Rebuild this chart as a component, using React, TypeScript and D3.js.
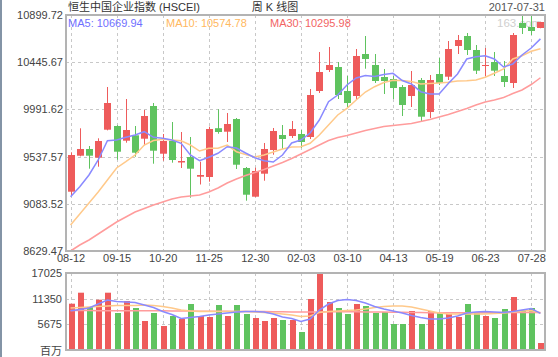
import React from 'react';
import * as d3 from 'd3';

const dates = [
  '2016-08-12', '2016-08-19', '2016-08-26', '2016-09-02', '2016-09-09', '2016-09-15', '2016-09-23', '2016-09-30',
  '2016-10-07', '2016-10-14', '2016-10-20', '2016-10-28', '2016-11-04', '2016-11-11', '2016-11-18', '2016-11-25',
  '2016-12-02', '2016-12-09', '2016-12-16', '2016-12-23', '2016-12-30', '2017-01-06', '2017-01-13', '2017-01-20',
  '2017-01-27', '2017-02-03', '2017-02-10', '2017-02-17', '2017-02-24', '2017-03-03', '2017-03-10', '2017-03-17',
  '2017-03-24', '2017-03-31', '2017-04-07', '2017-04-13', '2017-04-21', '2017-04-28', '2017-05-05', '2017-05-12',
  '2017-05-19', '2017-05-26', '2017-06-02', '2017-06-09', '2017-06-16', '2017-06-23', '2017-06-30', '2017-07-07',
  '2017-07-14', '2017-07-21', '2017-07-28', '2017-07-31',
];

const opens = [
  9199.9, 9546.2, 9610.7, 9527.0, 9796.3, 9831.9, 9690.5, 9742.4, 9709.7, 10024.3, 9565.4, 9687.6, 9480.8,
  9533.7, 9344.2, 9341.3, 9810.8, 9777.1, 9899.3, 9427.9, 9151.8, 9373.1, 9601.0, 9745.4, 9735.7, 9755.0,
  9726.1, 10168.6, 10370.6, 10399.5, 10168.6, 10120.5, 10524.5, 10418.7, 10303.3, 10284.0, 10207.1, 10120.5,
  10274.4, 9966.6, 10332.1, 10306.2, 10601.5, 10697.7, 10563.0, 10409.1, 10447.6, 10312.9, 10245.6, 10822.8,
  10784.3, 10774.7,
];
const highs = [
  9578.9, 9809.8, 9639.5, 9713.6, 10207.1, 9840.0, 10091.6, 9831.9, 9985.8, 10053.2, 9755.0, 9870.4, 9774.2,
  9726.1, 9488.5, 9825.2, 9993.5, 9957.0, 9908.9, 9437.5, 9430.8, 9668.4, 9812.7, 9841.5, 9880.0, 9793.4,
  10187.8, 10543.8, 10591.9, 10447.6, 10312.9, 10572.6, 10697.7, 10524.5, 10380.2, 10312.9, 10226.3, 10361.0,
  10293.7, 10322.5, 10486.1, 10649.6, 10707.3, 10726.5, 10611.1, 10582.2, 10543.8, 10457.2, 10726.5, 10899.72,
  10890.1, 10835.0,
];
const lows = [
  9168.2, 9540.0, 9421.2, 9440.4, 9790.0, 9507.7, 9671.3, 9536.6, 9646.3, 9469.2, 9498.1, 9478.9, 9427.9,
  9142.2, 9269.2, 9296.1, 9757.8, 9678.0, 9418.3, 9113.3, 9148.0, 9305.7, 9555.8, 9610.7, 9716.5, 9620.3,
  9706.9, 10149.4, 10351.4, 10091.6, 10014.7, 10082.0, 10383.1, 10245.6, 10139.7, 10091.6, 9928.1, 10014.7,
  9880.0, 9908.9, 10226.3, 10274.4, 10524.5, 10514.9, 10332.1, 10312.9, 10312.9, 10207.1, 10197.5, 10716.9,
  10707.3, 10772.0,
];
const closes = [
  9552.9, 9610.7, 9546.2, 9687.6, 10053.2, 9584.7, 9793.4, 9575.1, 9928.1, 9594.3, 9687.6, 9504.8, 9495.2,
  9421.2, 9360.5, 9803.1, 9774.2, 9851.2, 9459.6, 9171.0, 9399.0, 9610.7, 9783.8, 9706.9, 9803.1, 9678.0,
  10130.1, 10351.4, 10418.7, 10130.1, 10053.2, 10505.3, 10476.4, 10264.8, 10264.8, 10197.5, 10033.9, 10226.3,
  9921.4, 10274.4, 10245.6, 10572.6, 10659.2, 10563.0, 10363.9, 10418.7, 10363.9, 10255.2, 10707.3, 10774.7,
  10745.8, 10832.4,
];

const ma5 = [
  9151.8, 9248.0, 9360.5, 9504.8, 9690.5, 9697.2, 9723.2, 9745.4, 9777.1, 9723.2, 9713.6, 9697.2, 9665.5,
  9552.9, 9498.1, 9530.8, 9569.3, 9632.8, 9620.3, 9572.2, 9527.0, 9498.1, 9485.6, 9552.9, 9668.4, 9697.2,
  9764.6, 9889.6, 10065.7, 10130.1, 10226.3, 10293.7, 10317.7, 10308.1, 10327.3, 10338.9, 10269.6, 10235.9,
  10161.9, 10139.7, 10139.7, 10240.8, 10332.1, 10476.4, 10498.6, 10508.2, 10476.4, 10399.5, 10428.3, 10514.9,
  10582.2, 10669.94,
];
const ma10 = [
  8879.6, 8985.4, 9091.2, 9197.0, 9312.4, 9427.9, 9488.5, 9552.9, 9649.1, 9692.4, 9704.0, 9697.2, 9690.5,
  9649.1, 9591.4, 9617.4, 9617.4, 9649.1, 9584.7, 9557.8, 9533.7, 9552.9, 9581.8, 9610.7, 9629.9, 9632.8,
  9665.5, 9745.4, 9841.5, 9937.7, 10002.2, 10082.0, 10159.0, 10210.0, 10250.4, 10271.5, 10269.6, 10260.0,
  10235.9, 10240.8, 10245.6, 10252.3, 10264.8, 10267.7, 10274.4, 10300.4, 10338.9, 10380.2, 10476.4, 10508.2,
  10550.5, 10574.78,
];
const ma30 = [
  8629.47, 8687.2, 8735.3, 8793.0, 8850.7, 8908.4, 8956.5, 9004.6, 9038.3, 9072.0, 9100.8, 9129.7, 9148.9,
  9158.5, 9168.2, 9197.0, 9235.5, 9283.6, 9322.1, 9355.7, 9384.6, 9413.5, 9447.1, 9480.8, 9519.3, 9562.6,
  9605.9, 9649.1, 9692.4, 9721.3, 9740.5, 9764.6, 9788.6, 9807.9, 9827.1, 9836.7, 9846.3, 9856.0, 9875.2,
  9894.4, 9918.5, 9942.5, 9971.4, 10000.3, 10033.9, 10062.8, 10082.0, 10106.1, 10144.6, 10178.2, 10231.1,
  10295.98,
];

const volumes = [
  10237, 12670, 9507, 11122, 12670, 8181, 10834, 9286, 6412, 8181, 5306, 7517, 6854, 10171, 7517, 7296, 9950,
  7517, 9950, 7960, 7075, 6412, 7075, 6633, 6633, 3980, 11276, 16870, 10613, 9286, 7960, 10171, 9728, 8181,
  8402, 5749, 5749, 8623, 5749, 8623, 8181, 7960, 7296, 10171, 8402, 7517, 7075, 9065, 11718, 8844, 9286, 1548,
];
const volMa5 = [
  8689, 8955, 9286, 10171, 11055, 10723, 10613, 10502, 9950, 9397, 8512, 7849, 6965, 7186, 7407, 7739, 7960,
  8181, 8402, 8512, 8512, 8402, 7960, 7296, 6965, 6301, 6854, 8844, 10171, 10944, 11166, 10944, 10392, 9618,
  9065, 8623, 8181, 7628, 7186, 6854, 6854, 7075, 7517, 8181, 8402, 8512, 8402, 8291, 8512, 8844, 9176, 8092,
];
const volMa10 = [
  9286, 9397, 9507, 9618, 9728, 9839, 9839, 9839, 9950, 9839, 9618, 9286, 8844, 8623, 8512, 8512, 8512, 8512,
  8512, 8512, 8402, 8291, 8181, 7960, 7739, 7407, 7517, 8291, 8512, 8623, 8733, 8844, 9065, 9397, 9618, 9728,
  9728, 9507, 9065, 8623, 8181, 7960, 7960, 7960, 7960, 7960, 8070, 8181, 8402, 8623, 8733, 8181,
];
const volMa30 = [
  8730, 8715, 8720, 8700, 8705, 8690, 8700, 8680, 8685, 8670, 8660, 8650, 8640, 8610, 8590, 8580, 8560, 8550,
  8540, 8530, 8520, 8500, 8470, 8440, 8420, 8390, 8380, 8420, 8440, 8450, 8440, 8430, 8420, 8400, 8390, 8360,
  8330, 8300, 8270, 8250, 8230, 8220, 8210, 8220, 8230, 8250, 8260, 8270, 8280, 8300, 8330, 8300,
];

const yTicks = [10899.72, 10445.67, 9991.62, 9537.57, 9083.52, 8629.47];
const volTicks = [17025, 11350, 5675];

const title = '恒生中国企业指数 (HSCEI)';
const periodLabel = '周 K 线图';
const lastDate = '2017-07-31';
const legend = [
  { name: 'MA5', value: '10669.94' },
  { name: 'MA10', value: '10574.78' },
  { name: 'MA30', value: '10295.98' },
];

const RED = '#ee5b5b';
const GREEN = '#5fc35f';
const C_MA5 = '#8a8aff';
const C_MA10 = '#ffc98a';
const C_MA30 = '#ff9c9c';
const FONT = "'Liberation Sans', Arial, 'Noto Sans CJK SC', sans-serif";

export default function App() {
  const W = 558;
  const H = 357;
  const left = 66;
  const right = 545;
  const top = 15;
  const bottom = 251;
  const vTop = 273;
  const vBottom = 350;

  const x = d3
    .scaleBand<string>()
    .domain(dates)
    .range([left, right])
    .paddingInner(0.27)
    .paddingOuter(0.13);
  const cx = (i: number) => (x(dates[i]) as number) + x.bandwidth() / 2;
  const y = d3.scaleLinear().domain([yTicks[5], yTicks[0]]).range([bottom, top]);
  const yv = d3.scaleLinear().domain([0, volTicks[0]]).range([vBottom, vTop]);

  const priceLine = (arr: number[]) =>
    d3
      .line<number>()
      .x((_, i) => cx(i))
      .y((d) => y(d))(arr) as string;
  const volLine = (arr: number[]) =>
    d3
      .line<number>()
      .x((_, i) => cx(i))
      .y((d) => yv(d))(arr) as string;

  const labelIdx = dates.map((_, i) => i).filter((i) => i % 5 === 0 && i <= 50);
  const gridColor = '#c8c8c8';
  const frameColor = '#b3b3b3';

  return (
    <svg
      width={W}
      height={H}
      style={{ position: 'absolute', left: 0, top: 0, background: '#fff', fontFamily: FONT }}
    >
      <rect x={0} y={0} width={W} height={H} fill="#fff" />
      <line x1={1} x2={1} y1={0} y2={H} stroke="#8394a6" strokeWidth={2} />

      {/* header */}
      <text x={68} y={11} fontSize={11} fill="#333">{title}</text>
      <text x={275} y={11} fontSize={11} fill="#333" textAnchor="middle">{periodLabel}</text>
      <text x={545} y={10.5} fontSize={11} fill="#555" textAnchor="end">{lastDate}</text>

      {/* grid main */}
      {yTicks.slice(1, 5).map((t) => (
        <line key={'hg' + t} x1={left} x2={right} y1={Math.round(y(t)) + 0.5} y2={Math.round(y(t)) + 0.5}
          stroke={gridColor} strokeDasharray="3,3" />
      ))}
      {labelIdx.map((i) => (
        <line key={'vg' + i} x1={Math.round(cx(i)) + 0.5} x2={Math.round(cx(i)) + 0.5} y1={top} y2={bottom}
          stroke={gridColor} strokeDasharray="3,3" />
      ))}

      {/* watermark & legend */}
      <text x={497} y={26.5} fontSize={11.5} fill="#cfcfcf">163.com</text>
      <text x={68} y={26.5} fontSize={11} fill="#6f6fff">{legend[0].name}: {legend[0].value}</text>
      <text x={166} y={26.5} fontSize={11} fill="#ffb860">{legend[1].name}: {legend[1].value}</text>
      <text x={270} y={26.5} fontSize={11} fill="#f26464">{legend[2].name}: {legend[2].value}</text>

      {/* candles */}
      {dates.map((d, i) => {
        const up = closes[i] >= opens[i];
        const col = up ? RED : GREEN;
        const c = Math.round(cx(i));
        const yTop = y(Math.max(opens[i], closes[i]));
        const yBot = y(Math.min(opens[i], closes[i]));
        return (
          <g key={'c' + d}>
            <line x1={c + 0.5} x2={c + 0.5} y1={y(highs[i])} y2={y(lows[i])} stroke={col} strokeWidth={1} />
            <rect x={c - 3} y={yTop} width={7} height={Math.max(1, yBot - yTop)} fill={col} />
          </g>
        );
      })}

      {/* MA lines */}
      <path d={priceLine(ma30)} fill="none" stroke={C_MA30} strokeWidth={1.5} />
      <path d={priceLine(ma10)} fill="none" stroke={C_MA10} strokeWidth={1.5} />
      <path d={priceLine(ma5)} fill="none" stroke={C_MA5} strokeWidth={1.5} />

      {/* main frame */}
      <rect x={left} y={top} width={right - left} height={bottom - top} fill="none" stroke={frameColor} strokeWidth={2} />

      {/* y labels */}
      {yTicks.map((t) => (
        <text key={'yl' + t} x={63} y={y(t) + 4} fontSize={11} fill="#444" textAnchor="end">
          {t.toFixed(2)}
        </text>
      ))}
      {/* x labels */}
      {labelIdx.map((i) => (
        <text key={'xl' + i} x={cx(i) + 0.5} y={261.5} fontSize={11} fill="#444" textAnchor="middle">
          {dates[i].slice(5)}
        </text>
      ))}

      {/* volume grid */}
      {volTicks.slice(1).map((t) => (
        <line key={'vh' + t} x1={left} x2={right} y1={Math.round(yv(t)) + 0.5} y2={Math.round(yv(t)) + 0.5}
          stroke={gridColor} strokeDasharray="3,3" />
      ))}
      {labelIdx.map((i) => (
        <line key={'vv' + i} x1={Math.round(cx(i)) + 0.5} x2={Math.round(cx(i)) + 0.5} y1={vTop} y2={vBottom}
          stroke={gridColor} strokeDasharray="3,3" />
      ))}

      {/* volume bars */}
      {dates.map((d, i) => {
        const up = closes[i] >= opens[i];
        const c = Math.round(cx(i));
        return (
          <rect key={'v' + d} x={c - 2} y={yv(volumes[i])} width={6} height={vBottom - yv(volumes[i])}
            fill={up ? RED : GREEN} />
        );
      })}
      <path d={volLine(volMa30)} fill="none" stroke={C_MA30} strokeWidth={1.5} />
      <path d={volLine(volMa10)} fill="none" stroke={C_MA10} strokeWidth={1.5} />
      <path d={volLine(volMa5)} fill="none" stroke={C_MA5} strokeWidth={1.5} />

      <rect x={left} y={vTop} width={right - left} height={vBottom - vTop} fill="none" stroke={frameColor} strokeWidth={2} />

      {volTicks.map((t) => (
        <text key={'vl' + t} x={62} y={yv(t) + 4} fontSize={11} fill="#444" textAnchor="end">{t}</text>
      ))}
      <text x={62} y={354.5} fontSize={11} fill="#444" textAnchor="end">百万</text>
    </svg>
  );
}
